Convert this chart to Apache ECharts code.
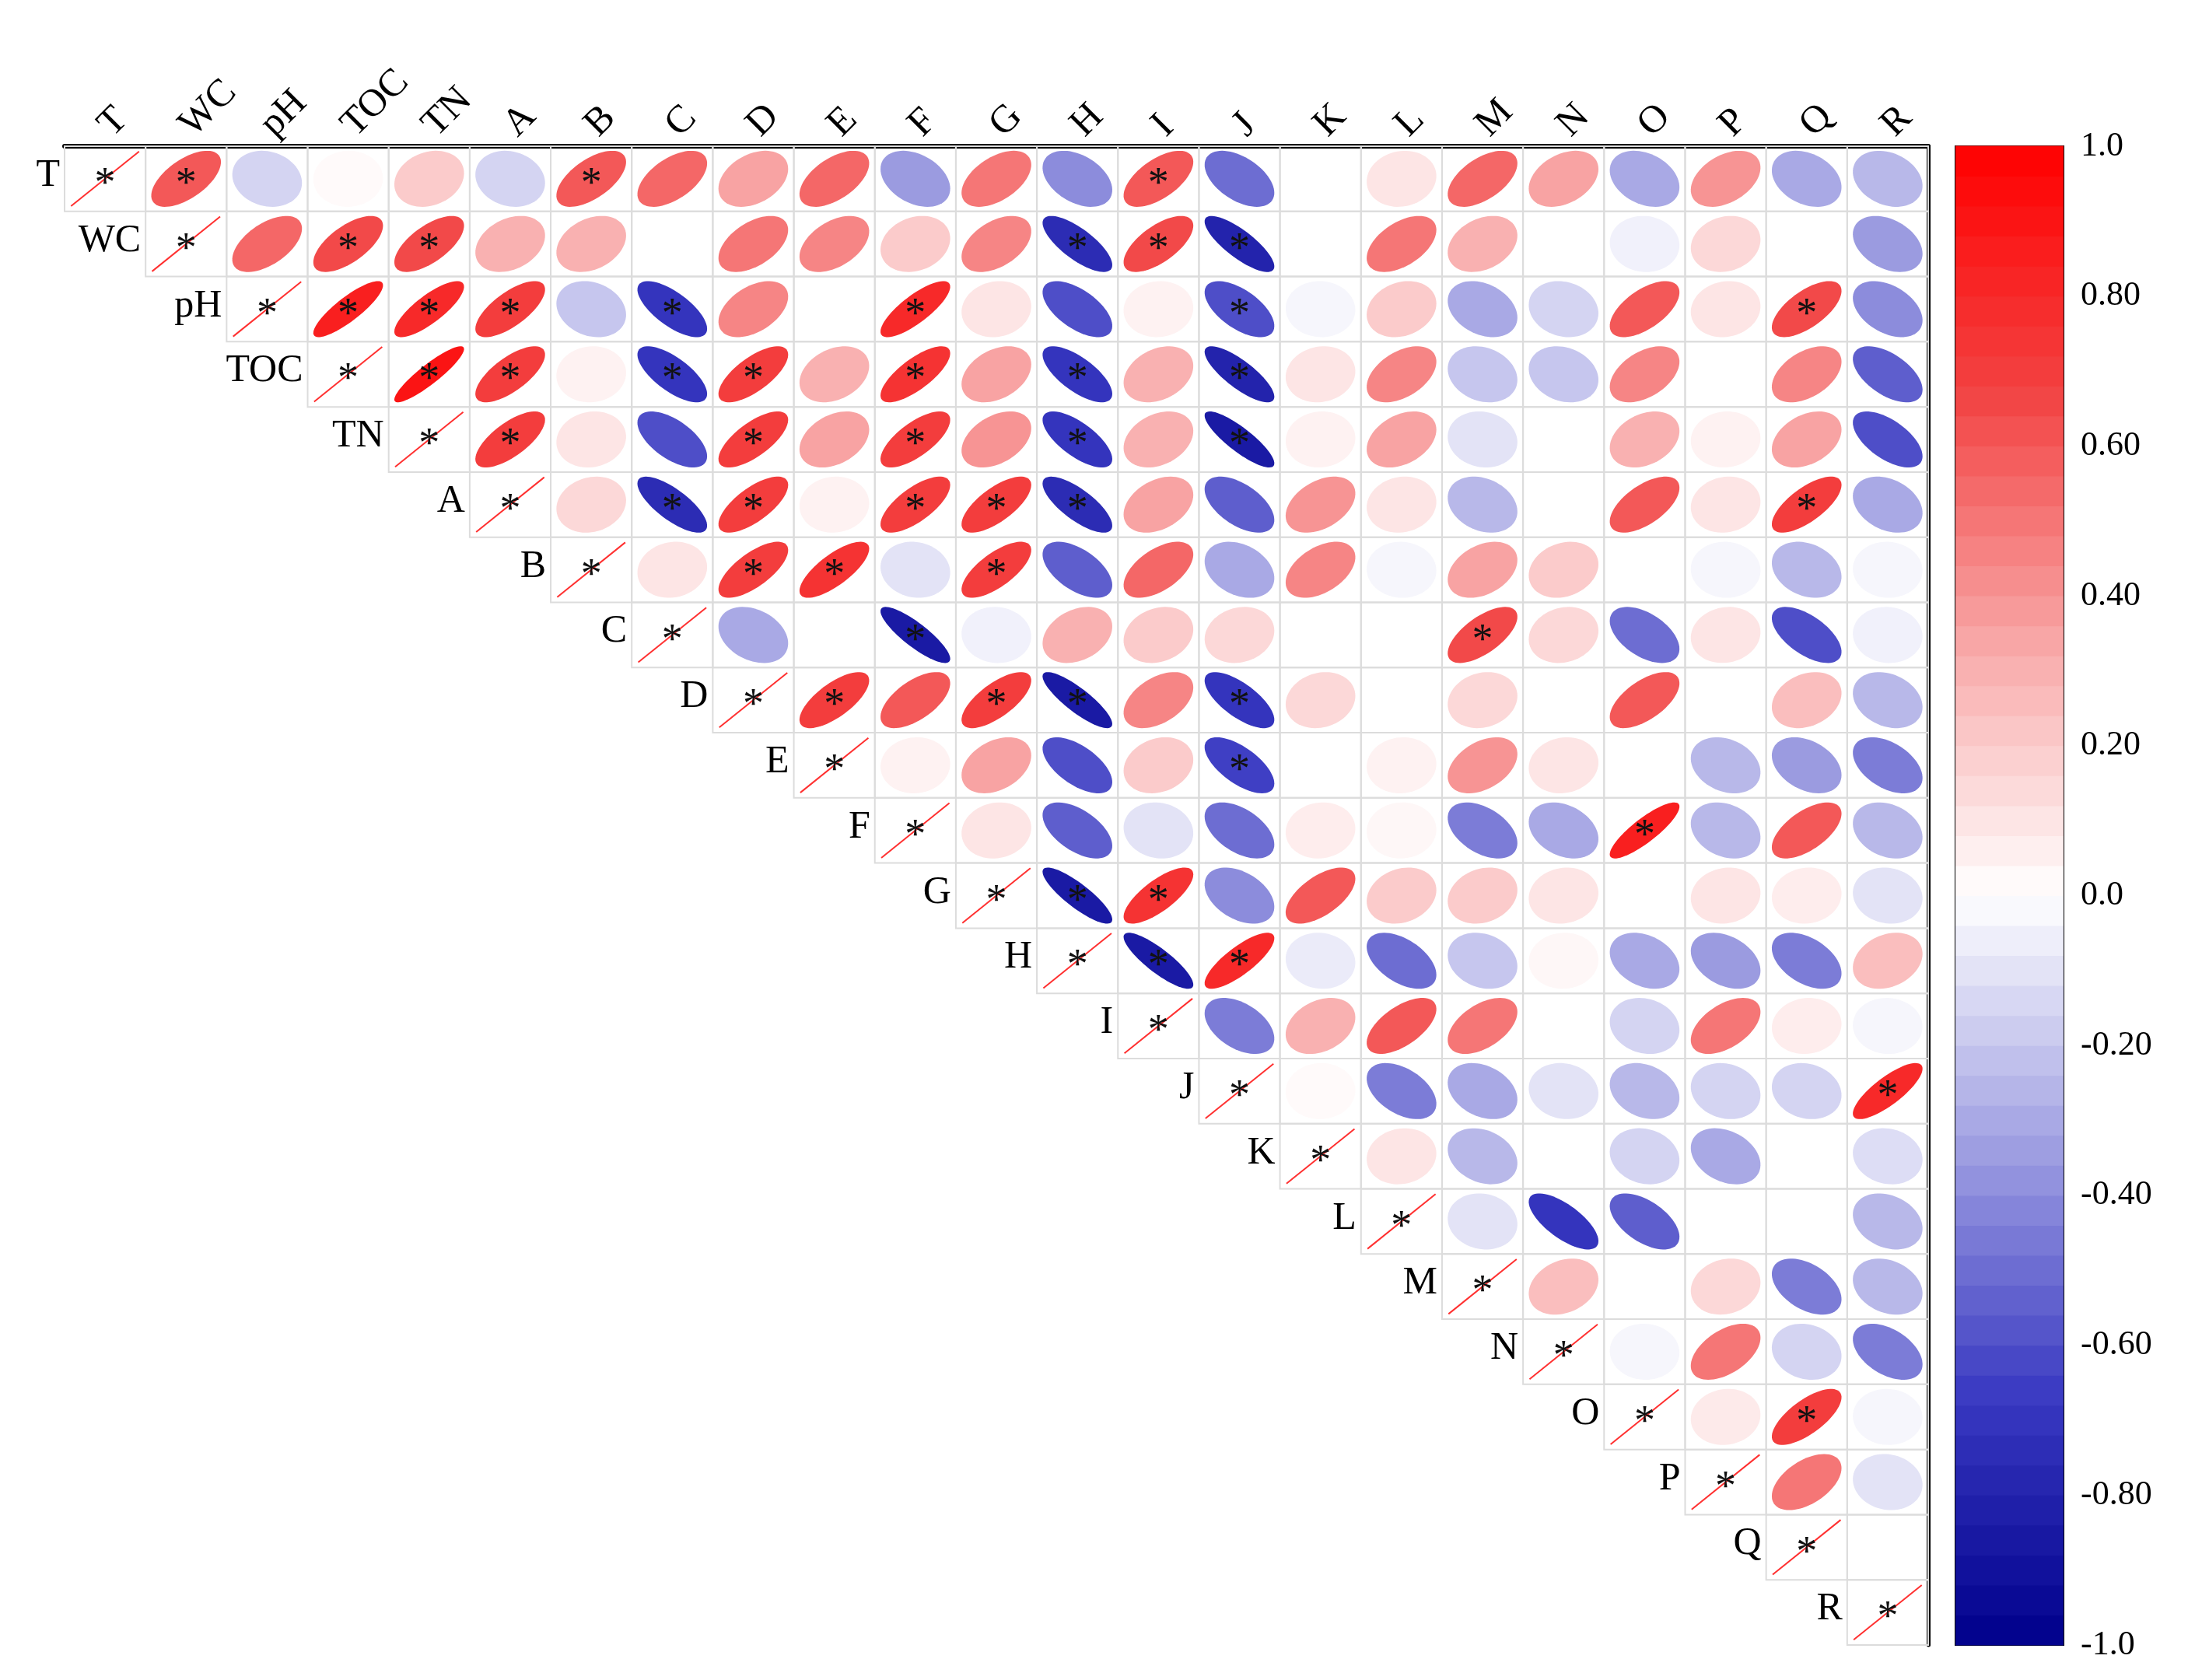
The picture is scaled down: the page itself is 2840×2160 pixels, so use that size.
<!DOCTYPE html>
<html>
<head>
<meta charset="utf-8">
<script src="https://cdn.jsdelivr.net/npm/echarts@6/dist/echarts.min.js"></script>
<style>html,body{margin:0;background:#fff}#main{width:2840px;height:2160px}</style>
</head>
<body>
<div id="main"></div>
<script>
var names = ['T','WC','pH','TOC','TN','A','B','C','D','E','F','G','H','I','J','K','L','M','N','O','P','Q','R'];

// upper triangle, row i holds values for columns i+1 .. end
var rowT   = [0.6,-0.15,0.02,0.2,-0.15,0.6,0.55,0.35,0.55,-0.35,0.5,-0.4,0.6,-0.5,0,0.1,0.55,0.35,-0.3,0.4,-0.3,-0.25];
var rowWC  = [0.55,0.65,0.65,0.3,0.3,0,0.5,0.45,0.2,0.45,-0.75,0.65,-0.8,0,0.5,0.3,0,-0.05,0.15,0,-0.35];
var rowPH  = [0.85,0.8,0.7,-0.2,-0.7,0.45,0,0.8,0.1,-0.6,0.05,-0.6,-0.03,0.2,-0.3,-0.15,0.6,0.1,0.65,-0.4];
var rowTOC = [0.9,0.7,0.05,-0.7,0.7,0.3,0.75,0.35,-0.7,0.3,-0.8,0.1,0.45,-0.2,-0.2,0.45,0,0.45,-0.55];
var rowTN  = [0.7,0.1,-0.6,0.7,0.35,0.7,0.4,-0.7,0.3,-0.85,0.05,0.35,-0.1,0,0.3,0.05,0.35,-0.6];
var rowA   = [0.15,-0.75,0.7,0.05,0.7,0.7,-0.75,0.35,-0.55,0.4,0.1,-0.25,0,0.6,0.1,0.7,-0.3];
var rowB   = [0.1,0.7,0.75,-0.1,0.7,-0.55,0.55,-0.3,0.45,-0.03,0.35,0.2,0,-0.03,-0.25,-0.03];
var rowC   = [-0.3,0,-0.85,-0.05,0.3,0.2,0.15,0,0,0.65,0.15,-0.5,0.1,-0.6,-0.05];
var rowD   = [0.7,0.6,0.7,-0.85,0.45,-0.7,0.15,0,0.15,0,0.6,0,0.25,-0.25];
var rowE   = [0.05,0.35,-0.6,0.2,-0.65,0,0.05,0.4,0.1,0,-0.25,-0.35,-0.45];
var rowF   = [0.1,-0.55,-0.1,-0.5,0.07,0.03,-0.45,-0.3,0.85,-0.25,0.6,-0.25];
var rowG   = [-0.85,0.75,-0.4,0.6,0.2,0.2,0.1,0,0.1,0.07,-0.1];
var rowH   = [-0.85,0.8,-0.07,-0.5,-0.2,0.03,-0.3,-0.35,-0.45,0.25];
var rowI   = [-0.45,0.3,0.6,0.5,0,-0.15,0.5,0.07,-0.03];
var rowJ   = [0.02,-0.45,-0.3,-0.1,-0.25,-0.15,-0.15,0.8];
var rowK   = [0.1,-0.25,0,-0.15,-0.3,0,-0.12];
var rowL   = [-0.1,-0.7,-0.55,0,0,-0.25];
var rowM   = [0.25,0,0.15,-0.45,-0.25];
var rowN   = [-0.03,0.5,-0.15,-0.45];
var rowO   = [0.08,0.7,-0.03];
var rowP   = [0.5,-0.1];
var rowQ   = [0];
var rows = [rowT,rowWC,rowPH,rowTOC,rowTN,rowA,rowB,rowC,rowD,rowE,rowF,rowG,rowH,rowI,rowJ,rowK,rowL,rowM,rowN,rowO,rowP,rowQ,[]];

// significant pairs (marked with *)
var sigPairs = [
  ['T','WC'],['T','B'],['T','I'],
  ['WC','TOC'],['WC','TN'],['WC','H'],['WC','I'],['WC','J'],
  ['pH','TOC'],['pH','TN'],['pH','A'],['pH','C'],['pH','F'],['pH','J'],['pH','Q'],
  ['TOC','TN'],['TOC','A'],['TOC','C'],['TOC','D'],['TOC','F'],['TOC','H'],['TOC','J'],
  ['TN','A'],['TN','D'],['TN','F'],['TN','H'],['TN','J'],
  ['A','C'],['A','D'],['A','F'],['A','G'],['A','H'],['A','Q'],
  ['B','D'],['B','E'],['B','G'],
  ['C','F'],['C','M'],
  ['D','E'],['D','G'],['D','H'],['D','J'],
  ['E','J'],['F','O'],['G','H'],['G','I'],['H','I'],['H','J'],['J','R'],['O','Q']
];

var ticks = [-1,-0.8,-0.6,-0.4,-0.2,0,0.2,0.4,0.6,0.8,1];

var sigSet = {};
sigPairs.forEach(function (p) { sigSet[p[0] + '|' + p[1]] = true; });

var cells = [];
for (var i = 0; i < names.length; i++) {
    cells.push([i, i, 1, 1, 1]); // diagonal
    for (var k = 0; k < rows[i].length; k++) {
        var j = i + 1 + k;
        cells.push([j, i, rows[i][k], sigSet[names[i] + '|' + names[j]] ? 1 : 0, 0]);
    }
}

var barLevels = [];
for (var v = -1; v < 0.999; v += 0.04) barLevels.push([0, +(v + 0.02).toFixed(2), +(v + 0.02).toFixed(2)]);

function renderCell(params, api) {
    var x = api.value(0), y = api.value(1), r = api.value(2), sig = api.value(3), diag = api.value(4);
    var c = api.coord([x, y]);
    var s = api.size([1, 1]);
    var w = s[0], h = s[1];
    var kids = [{
        type: 'rect',
        shape: { x: c[0] - w / 2, y: c[1] - h / 2, width: w, height: h },
        style: { fill: 'none', stroke: '#dcdcdc', lineWidth: 2 }
    }];
    if (diag) {
        kids.push({
            type: 'line',
            shape: { x1: c[0] - w * 0.42, y1: c[1] + h * 0.42, x2: c[0] + w * 0.42, y2: c[1] - h * 0.42 },
            style: { stroke: '#ff3030', lineWidth: 2 }
        });
        kids.push({
            type: 'text',
            style: { text: names[x], x: c[0] - w / 2 - 6, y: c[1] - 4, align: 'right', verticalAlign: 'middle',
                     font: '50px "Liberation Serif"', fill: '#000' }
        });
    } else {
        var kk = 0.86, a = kk * Math.sqrt(1 + Math.abs(r)), b = kk * Math.sqrt(1 - Math.abs(r));
        var d1 = r >= 0 ? [1, -1] : [1, 1], d2 = r >= 0 ? [1, 1] : [-1, 1];
        var pts = [];
        for (var t = 0; t < 72; t++) {
            var ang = t / 72 * Math.PI * 2;
            var u = a * Math.cos(ang) / Math.SQRT2, vv = b * Math.sin(ang) / Math.SQRT2;
            pts.push([c[0] + (u * d1[0] + vv * d2[0]) * w / 2, c[1] + (u * d1[1] + vv * d2[1]) * h / 2]);
        }
        kids.push({ type: 'polygon', shape: { points: pts }, style: { fill: api.visual('color'), stroke: 'none' } });
    }
    if (sig) {
        kids.push({
            type: 'text',
            style: { text: '*', x: c[0], y: c[1] + 8, align: 'center', verticalAlign: 'middle',
                     font: '54px "Liberation Serif"', fill: '#111' }
        });
    }
    return { type: 'group', children: kids };
}

function renderBar(params, api) {
    var c = api.coord([0, api.value(1)]);
    var s = api.size([1, 0.04]);
    return {
        type: 'rect',
        shape: { x: c[0], y: c[1] - s[1] / 2 - 0.5, width: s[0], height: s[1] + 1 },
        style: { fill: api.visual('color') }
    };
}

var chart = echarts.init(document.getElementById('main'));
var option = {
    backgroundColor: '#fff',
    animation: false,
    grid: [
        { left: 83, right: 361, top: 188, bottom: 45 },
        { left: 2514, width: 139, top: 188, bottom: 45, show: true, borderColor: '#000', borderWidth: 2 }
    ],
    visualMap: {
        show: false, type: 'continuous', min: -1, max: 1, dimension: 2, seriesIndex: [0, 1],
        inRange: { color: ['#00008b', '#3a3ac2', '#a0a0e2', '#ffffff', '#f8a8a8', '#f24444', '#ff0000'] }
    },
    xAxis: [
        { type: 'category', gridIndex: 0, data: names, position: 'top',
          axisLine: { lineStyle: { color: '#000', width: 6 } }, axisTick: { show: false },
          axisLabel: { rotate: -45, fontSize: 50, fontFamily: 'Liberation Serif', color: '#000', margin: 20 } },
        { type: 'value', gridIndex: 1, min: 0, max: 1, show: false }
    ],
    yAxis: [
        { type: 'category', gridIndex: 0, data: names, inverse: true, position: 'right',
          axisLine: { show: true, lineStyle: { color: '#000', width: 5 } },
          axisTick: { show: false }, axisLabel: { show: false } },
        { type: 'value', gridIndex: 1, min: -1, max: 1, interval: 0.2, position: 'right',
          axisLine: { show: false }, splitLine: { show: false },
          axisTick: { show: true, inside: false, length: 8, lineStyle: { color: '#000', width: 2 } },
          axisLabel: { fontSize: 44, fontFamily: 'Liberation Serif', color: '#000', margin: 22,
              formatter: function (v) {
                  if (Math.abs(v) < 1e-6) return '0.0';
                  if (Math.abs(Math.abs(v) - 1) < 1e-6) return v.toFixed(1);
                  return v.toFixed(2);
              } } }
    ],
    series: [
        { type: 'custom', xAxisIndex: 0, yAxisIndex: 0, renderItem: renderCell, data: cells },
        { type: 'custom', xAxisIndex: 1, yAxisIndex: 1, renderItem: renderBar, data: barLevels }
    ]
};
chart.setOption(option);
</script>
</body>
</html>
